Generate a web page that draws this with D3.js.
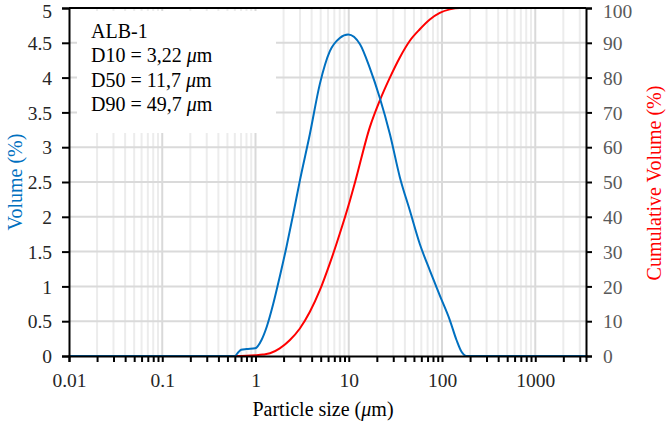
<!DOCTYPE html>
<html lang="en">
<head>
    <meta charset="UTF-8">
    <title>ALB-1 particle size</title>
    <script src="https://d3js.org/d3.v7.min.js"></script>
    <style>
        body { margin: 0; background: #fff; }
        svg { display: block; font-family: "Liberation Serif", "Times New Roman", serif; }
    </style>
</head>
<body>
    <svg></svg>
    <script>
        // particle size (um) and volume (%)
        const sizeVol = [0.01, 0.55, 0.6, 0.65, 0.7, 0.8, 0.99, 1.16, 1.32, 1.55, 1.82, 2.15, 2.54, 2.99, 3.83, 4.9, 6.27, 8.02, 9.86, 13.2, 16.8, 21.5, 27.6, 35.3, 45.2, 57.8, 74, 94.6, 121, 143, 162, 183, 210, 3500];
        const volume  = [0, 0, 0, 0.05, 0.09, 0.1, 0.11, 0.23, 0.42, 0.75, 1.14, 1.57, 2.04, 2.52, 3.19, 3.91, 4.38, 4.57, 4.62, 4.48, 4.14, 3.71, 3.19, 2.57, 2.09, 1.61, 1.23, 0.87, 0.52, 0.23, 0.06, 0, 0, 0];

        // particle size (um) and cumulative volume (%)
        const sizeCum = [0.01, 0.6, 0.8, 1.0, 1.2, 1.43, 1.82, 2.34, 2.99, 3.83, 4.9, 6.27, 8.02, 10.3, 11.7, 16.8, 21.5, 27.6, 35.3, 45.2, 57.8, 74, 94.6, 121, 155, 200, 3500];
        const cumulative = [0, 0, 0.05, 0.2, 0.4, 0.77, 2.2, 4.6, 7.9, 12.7, 18.9, 26.6, 35.2, 44.7, 50, 65.7, 73.4, 80, 85.8, 90.6, 93.9, 96.7, 98.6, 99.6, 100, 100, 100];

        const xMajor = [0.01, 0.1, 1, 10, 100, 1000];
        const yLeftTicks = [0, 0.5, 1, 1.5, 2, 2.5, 3, 3.5, 4, 4.5, 5];
        const yRightTicks = [0, 10, 20, 30, 40, 50, 60, 70, 80, 90, 100];
        const infoLines = ["ALB-1", "D10 = 3,22 ", "D50 = 11,7 ", "D90 = 49,7 "];

        const width = 666, height = 422;
        const mLeft = 69, mRight = 586, mTop = 8, mBottom = 356;
        const blue = "#0070C0", red = "#FF0000";

        const svg = d3.select("svg").attr("width", width).attr("height", height);

        const x = d3.scaleLog().domain([0.01, 3500]).range([mLeft, mRight]);
        const yL = d3.scaleLinear().domain([0, 5]).range([mBottom, mTop]);
        const yR = d3.scaleLinear().domain([0, 100]).range([mBottom, mTop]);

        // minor ticks 1..9 in every decade up to the end of the axis
        let allTicks = [];
        for (let e = -2; e <= 3; e++) {
            for (let m = 1; m <= 9; m++) {
                let v = m * Math.pow(10, e);
                if (v <= 3500) allTicks.push(+v.toPrecision(3));
            }
        }
        const minorTicks = allTicks.filter(v => !xMajor.includes(v));

        // gridlines
        const grid = svg.append("g");
        grid.selectAll(".vminor").data(minorTicks).enter().append("line")
            .attr("x1", d => x(d)).attr("x2", d => x(d))
            .attr("y1", mTop).attr("y2", mBottom)
            .attr("stroke", "#ececec").attr("stroke-width", 2);
        grid.selectAll(".vmajor").data(xMajor.slice(1)).enter().append("line")
            .attr("x1", d => x(d)).attr("x2", d => x(d))
            .attr("y1", mTop).attr("y2", mBottom)
            .attr("stroke", "#d9d9d9").attr("stroke-width", 2);
        grid.selectAll(".h").data(yLeftTicks.slice(1)).enter().append("line")
            .attr("x1", mLeft).attr("x2", mRight)
            .attr("y1", d => yL(d)).attr("y2", d => yL(d))
            .attr("stroke", "#dadada").attr("stroke-width", 2);

        // white label box over the grid
        svg.append("rect")
            .attr("x", 77).attr("y", 11)
            .attr("width", 199).attr("height", 122)
            .attr("fill", "#fff");

        const info = svg.append("text")
            .attr("font-size", 20).attr("fill", "#000");
        infoLines.forEach((t, i) => {
            info.append("tspan").attr("x", 91).attr("y", 38 + i * 24.4).text(t);
            if (i > 0) {
                info.append("tspan").attr("font-style", "italic").text("\u03bc");
                info.append("tspan").text("m");
            }
        });

        // curves
        const lineVol = d3.line()
            .x((d, i) => x(sizeVol[i]))
            .y(d => yL(d))
            .curve(d3.curveMonotoneX);
        const lineCum = d3.line()
            .x((d, i) => x(sizeCum[i]))
            .y(d => yR(d))
            .curve(d3.curveMonotoneX);

        svg.append("path").datum(cumulative)
            .attr("d", lineCum)
            .attr("fill", "none").attr("stroke", red).attr("stroke-width", 2);
        svg.append("path").datum(volume)
            .attr("d", lineVol)
            .attr("fill", "none").attr("stroke", blue).attr("stroke-width", 2);

        // axes
        const xAxis = svg.append("g")
            .attr("transform", "translate(0," + mBottom + ")")
            .call(d3.axisBottom(x).tickValues(allTicks).tickSize(6)
                .tickFormat(d => xMajor.includes(d) ? String(d) : ""));
        const yAxisL = svg.append("g")
            .attr("transform", "translate(" + mLeft + ",0)")
            .call(d3.axisLeft(yL).tickValues(yLeftTicks).tickSize(7).tickFormat(d3.format("")));
        const yAxisR = svg.append("g")
            .attr("transform", "translate(" + mRight + ",0)")
            .call(d3.axisRight(yR).tickValues(yRightTicks).tickSize(6).tickFormat(d3.format("")));

        [xAxis, yAxisL, yAxisR].forEach(a => {
            a.select(".domain").attr("stroke", "#000").attr("stroke-width", 2);
            a.selectAll(".tick line").attr("stroke", "#000").attr("stroke-width", 2);
            a.selectAll(".tick text")
                .attr("font-family", "Liberation Serif, serif")
                .attr("font-size", 19.5);
        });
        xAxis.selectAll(".tick text").attr("fill", "#262626").attr("y", 31).attr("dy", 0);
        yAxisL.selectAll(".tick text").attr("fill", "#262626").attr("x", -17).attr("dy", "0.34em");
        yAxisR.selectAll(".tick text").attr("fill", "#595959").attr("x", 17).attr("dy", "0.34em");
        // keep the topmost labels inside the page
        yAxisL.selectAll(".tick text").filter(d => d === 5).attr("dy", 9.6);
        yAxisR.selectAll(".tick text").filter(d => d === 100).attr("dy", 9.6);

        // top frame line
        svg.append("line")
            .attr("x1", mLeft).attr("x2", mRight)
            .attr("y1", mTop).attr("y2", mTop)
            .attr("stroke", "#000").attr("stroke-width", 2);

        // axis titles
        const xt = svg.append("text")
            .attr("x", 323).attr("y", 416)
            .attr("text-anchor", "middle").attr("font-size", 20).attr("fill", "#000");
        xt.append("tspan").text("Particle size (");
        xt.append("tspan").attr("font-style", "italic").text("\u03bc");
        xt.append("tspan").text("m)");

        svg.append("text")
            .attr("transform", "translate(22," + (mTop + mBottom) / 2 + ") rotate(-90)")
            .attr("text-anchor", "middle").attr("font-size", 20).attr("fill", blue)
            .text("Volume (%)");

        svg.append("text")
            .attr("transform", "translate(661,183) rotate(-90)")
            .attr("text-anchor", "middle").attr("font-size", 20).attr("fill", red)
            .text("Cumulative Volume (%)");
    </script>
</body>
</html>
